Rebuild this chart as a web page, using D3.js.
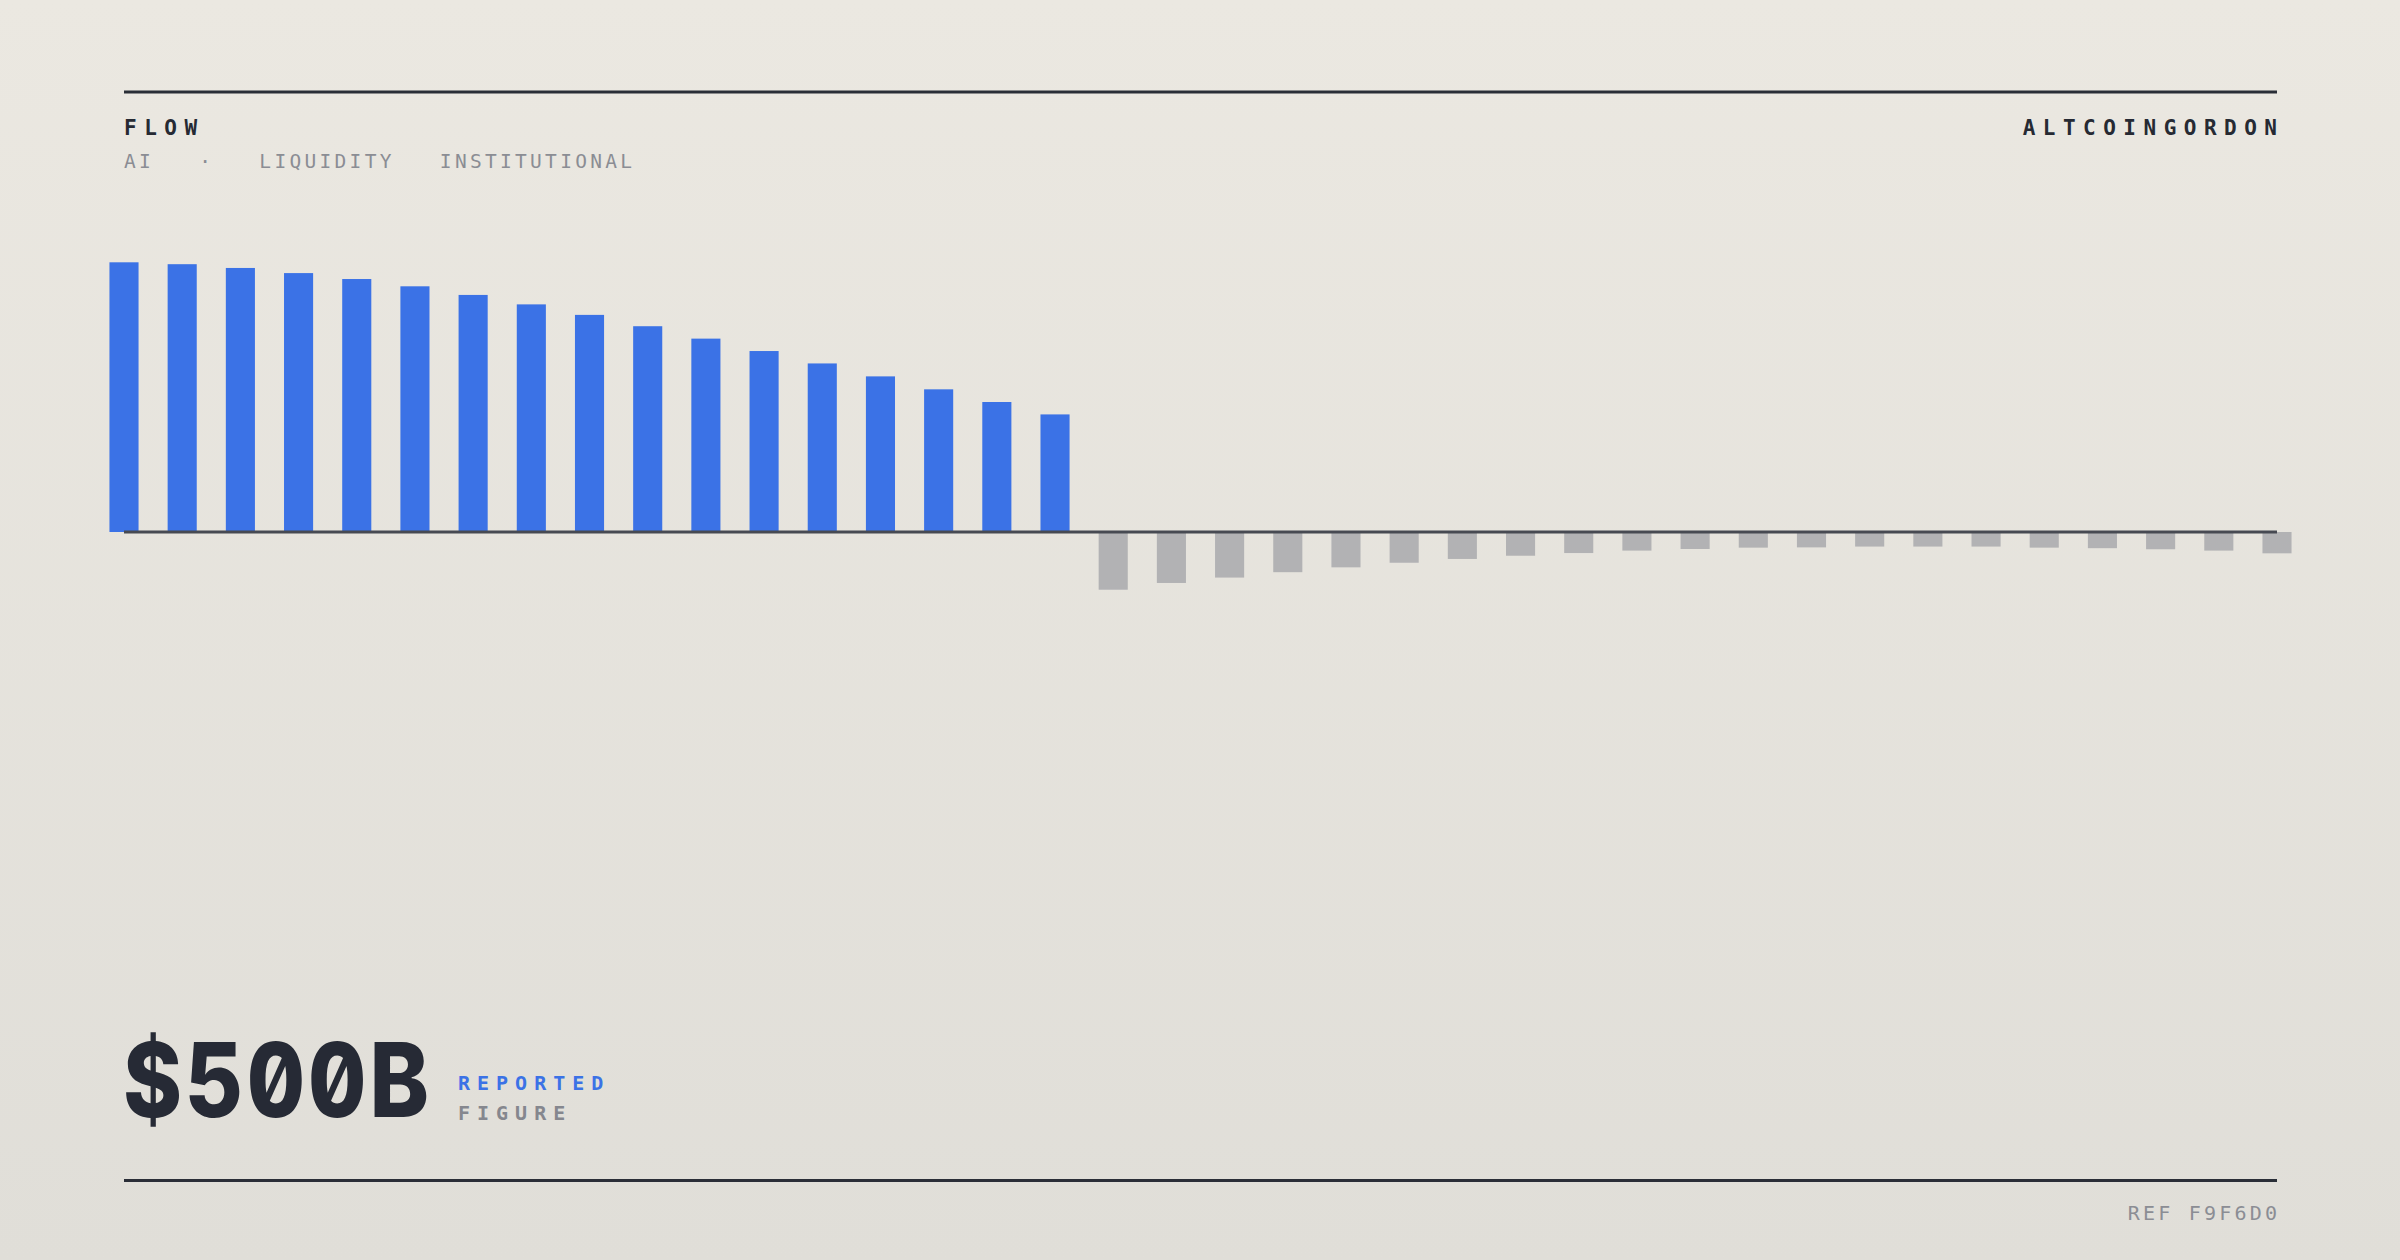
<!DOCTYPE html>
<html>
<head>
<meta charset="utf-8">
<script src="https://cdn.jsdelivr.net/npm/d3@7"></script>
<style>
  html, body { margin: 0; padding: 0; }
  body { width: 2400px; height: 1260px; overflow: hidden; }
  svg { display: block; }
  text { font-family: "DejaVu Sans Mono", "Liberation Mono", monospace; }
  .figure { font-family: Inter, "DejaVu Sans", sans-serif; font-feature-settings: "zero" 1, "tnum" 1; }
</style>
</head>
<body>
<div id="chart-area"></div>
<script>
// flows (index, top bar = 100)
var inflows = [100, 99.3, 97.9, 96.0, 93.8, 91.1, 87.9, 84.4, 80.5, 76.3,
               71.7, 67.1, 62.5, 57.7, 52.9, 48.2, 43.6];
var outflows = [-21.4, -18.9, -16.9, -14.9, -13.1, -11.4, -10.0, -8.8, -7.8, -6.9,
                -6.3, -5.8, -5.7, -5.4, -5.4, -5.4, -5.8, -6.0, -6.4, -6.9, -7.9];
var tags = ["AI", "·", "LIQUIDITY", "INSTITUTIONAL"];
var headline = "$500B";

var dataset = inflows.concat(outflows).map((v, i) => ({ period: "P" + (i + 1), value: v }));

var W = 2400, H = 1260;
var left = 124, right = 2277;

var svg = d3.select("#chart-area")
  .append("svg")
  .attr("width", W)
  .attr("height", H);

var grad = svg.append("defs").append("linearGradient")
  .attr("id", "bg")
  .attr("x1", 0).attr("y1", 0).attr("x2", 0).attr("y2", 1);
grad.append("stop").attr("offset", "0%").attr("stop-color", "#ebe8e1");
grad.append("stop").attr("offset", "100%").attr("stop-color", "#e0ded8");

svg.append("rect")
  .attr("width", W)
  .attr("height", H)
  .attr("fill", "url(#bg)");

// rules
svg.append("line")
  .attr("x1", left).attr("x2", right)
  .attr("y1", 92).attr("y2", 92)
  .attr("stroke", "#2a2e37").attr("stroke-width", 3);
svg.append("line")
  .attr("x1", left).attr("x2", right)
  .attr("y1", 1180.5).attr("y2", 1180.5)
  .attr("stroke", "#2a2e37").attr("stroke-width", 3);

// header
svg.append("text")
  .attr("x", left).attr("y", 135)
  .attr("font-size", 21).attr("font-weight", "bold")
  .attr("letter-spacing", 7.5)
  .attr("fill", "#262a33")
  .text("FLOW");

svg.append("text")
  .attr("x", right + 7.5).attr("y", 135)
  .attr("text-anchor", "end")
  .attr("font-size", 21).attr("font-weight", "bold")
  .attr("letter-spacing", 7.5)
  .attr("fill", "#262a33")
  .text("ALTCOINGORDON");

svg.append("text")
  .attr("x", left).attr("y", 167.5)
  .attr("font-size", 19.5)
  .attr("letter-spacing", 3.3)
  .attr("fill", "#8b8d94")
  .style("white-space", "pre")
  .text(tags.join("   "));

// bars
var x = d3.scalePoint()
  .domain(dataset.map((d) => d.period))
  .range([left, right]);

var barW = x.step() * 0.5;

var y = d3.scaleLinear()
  .domain([0, 100])
  .range([532, 262.3]);

svg.selectAll("rect.bar")
  .data(dataset)
  .enter()
  .append("rect")
  .attr("class", "bar")
  .attr("x", (d) => x(d.period) - barW / 2)
  .attr("y", (d) => y(Math.max(0, d.value)))
  .attr("width", barW)
  .attr("height", (d) => Math.abs(y(d.value) - y(0)))
  .attr("fill", (d) => d.value >= 0 ? "#3b72e6" : "#b2b2b4");

svg.append("line")
  .attr("x1", left).attr("x2", right)
  .attr("y1", y(0)).attr("y2", y(0))
  .attr("stroke", "#474a52").attr("stroke-width", 3);

// headline figure, squeezed to the narrow mono look
svg.append("text")
  .attr("class", "figure")
  .attr("transform", "translate(" + (left - 1) + ",1117) scale(0.87,1)")
  .attr("font-size", 103).attr("font-weight", 800)
  .attr("letter-spacing", 4)
  .attr("fill", "#262a35")
  .text(headline);

svg.append("text")
  .attr("x", 458).attr("y", 1090)
  .attr("font-size", 20).attr("font-weight", "bold")
  .attr("letter-spacing", 7)
  .attr("fill", "#3b72e6")
  .text("REPORTED");

svg.append("text")
  .attr("x", 458).attr("y", 1120)
  .attr("font-size", 20).attr("font-weight", "bold")
  .attr("letter-spacing", 7)
  .attr("fill", "#85878e")
  .text("FIGURE");

svg.append("text")
  .attr("x", right + 3.2).attr("y", 1220)
  .attr("text-anchor", "end")
  .attr("font-size", 20)
  .attr("letter-spacing", 3.2)
  .attr("fill", "#8b8d94")
  .text("REF F9F6D0");
</script>
</body>
</html>
